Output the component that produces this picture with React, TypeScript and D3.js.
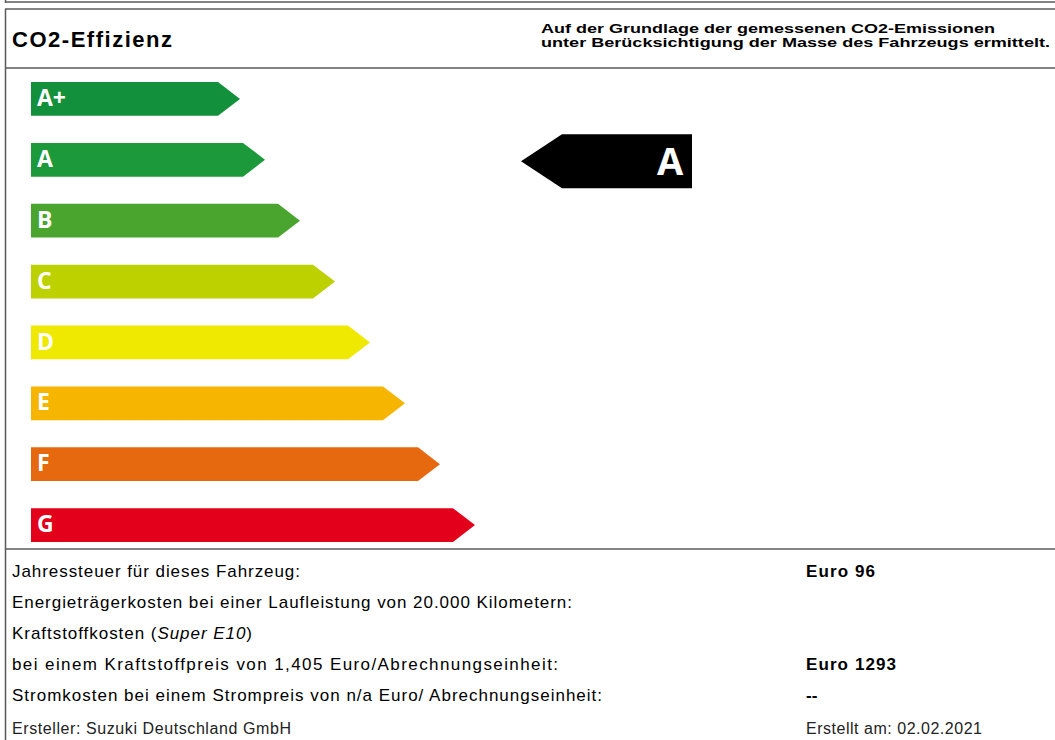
import React from "react";
import * as d3 from "d3";

const classes = ["A+", "A", "B", "C", "D", "E", "F", "G"];
const barLengths = [209, 234, 269, 304, 339, 374, 409, 444];
const barColors = ["#12903b", "#1c9a3b", "#4aa52e", "#bdd000", "#efe800", "#f6b500", "#e6680f", "#e2001a"];
const ratedClass = "A";

const headerTitle = "CO2-Effizienz";
const headerNote = [
  "Auf der Grundlage der gemessenen CO2-Emissionen",
  "unter Berücksichtigung der Masse des Fahrzeugs ermittelt.",
];

const rowLabels = [
  "Jahressteuer für dieses Fahrzeug:",
  "Energieträgerkosten bei einer Laufleistung von 20.000 Kilometern:",
  "Kraftstoffkosten (|Super E10|)",
  "bei einem Kraftstoffpreis von 1,405 Euro/Abrechnungseinheit:",
  "Stromkosten bei einem Strompreis von n/a Euro/ Abrechnungseinheit:",
];
const rowValues = ["Euro 96", "", "", "Euro 1293", "--"];
const footerLeft = "Ersteller: Suzuki Deutschland GmbH";
const footerRight = "Erstellt am: 02.02.2021";

const W = 1055;
const H = 740;
const FONT = "'Liberation Sans', Arial, sans-serif";
const LABEL_FONT = "'Open Sans', 'Noto Sans', sans-serif";

export default function App() {
  const y = d3.scaleBand<string>().domain(classes).range([82, 542]).paddingInner(0.445).paddingOuter(0);
  const x = d3.scaleLinear().domain([0, 444]).range([31, 475]);
  const tip = 22;
  const bh = y.bandwidth();

  const arrowPath = (i: number) => {
    const c = classes[i];
    const top = y(c)!;
    const p = d3.path();
    const x0 = x(0);
    const x1 = x(barLengths[i]);
    p.moveTo(x0, top);
    p.lineTo(x1 - tip, top);
    p.lineTo(x1, top + bh / 2);
    p.lineTo(x1 - tip, top + bh);
    p.lineTo(x0, top + bh);
    p.closePath();
    return p.toString();
  };

  const ry = y(ratedClass)! + bh / 2 + 1.5;
  const rp = d3.path();
  rp.moveTo(521, ry);
  rp.lineTo(562, ry - 27);
  rp.lineTo(692, ry - 27);
  rp.lineTo(692, ry + 27);
  rp.lineTo(562, ry + 27);
  rp.closePath();

  const rowY = d3.scaleLinear().domain([0, 1]).range([577, 608]);
  const rowLens = [288, 560, 240, 546, 590];
  const valLens = [69, 0, 0, 90, 0];

  const lineColor = "#5a5a5a";

  return (
    <svg width={W} height={H} style={{ position: "absolute", left: 0, top: 0, background: "#fff" }}>
      {/* frame lines */}
      <line x1={5} x2={W} y1={2} y2={2} stroke={lineColor} strokeWidth={1.5} />
      <line x1={5.5} x2={5.5} y1={0} y2={3} stroke={lineColor} strokeWidth={1.5} />
      <line x1={5} x2={W} y1={9} y2={9} stroke={lineColor} strokeWidth={1.5} />
      <line x1={5.5} x2={5.5} y1={9} y2={H} stroke={lineColor} strokeWidth={1.5} />
      <line x1={5} x2={W} y1={68} y2={68} stroke={lineColor} strokeWidth={1.5} />
      <line x1={5} x2={W} y1={549} y2={549} stroke={lineColor} strokeWidth={1.5} />

      {/* header */}
      <text x={12} y={47} fontFamily={FONT} fontWeight="bold" fontSize={22} fill="#000" textLength={160}>
        {headerTitle}
      </text>
      {headerNote.map((t, i) => (
        <text key={t} x={541} y={32.5 + i * 14} fontFamily={FONT} fontWeight="bold" fontSize={13} fill="#000"
          textLength={i === 0 ? 454 : 509} lengthAdjust="spacingAndGlyphs">
          {t}
        </text>
      ))}

      {/* efficiency bars */}
      {classes.map((c, i) => (
        <g key={c}>
          <path d={arrowPath(i)} fill={barColors[i]} />
          <text x={37} y={y(c)! + 24} fontFamily={LABEL_FONT} fontWeight={700} fontSize={23} fill="#fff">
            {c}
          </text>
        </g>
      ))}

      {/* rating indicator */}
      <path d={rp.toString()} fill="#000" />
      <text x={670} y={ry + 14} textAnchor="middle" fontFamily={LABEL_FONT} fontWeight={700} fontSize={38} fill="#fff">
        {ratedClass}
      </text>

      {/* info rows */}
      {rowLabels.map((t, i) => {
        const parts = t.split("|");
        return (
          <g key={i}>
            <text x={12} y={rowY(i)} fontFamily={FONT} fontSize={17} fill="#000" textLength={rowLens[i]}>
              {parts.map((p, j) => (
                <tspan key={j} fontStyle={j === 1 ? "italic" : "normal"}>{p}</tspan>
              ))}
            </text>
            {rowValues[i] && (
              <text x={806} y={rowY(i)} fontFamily={FONT} fontWeight="bold" fontSize={17} fill="#000"
                textLength={valLens[i] || undefined}>
                {rowValues[i]}
              </text>
            )}
          </g>
        );
      })}
      <text x={12} y={734} fontFamily={FONT} fontSize={16} fill="#222" textLength={279}>
        {footerLeft}
      </text>
      <text x={806} y={734} fontFamily={FONT} fontSize={16} fill="#222" textLength={176}>
        {footerRight}
      </text>
    </svg>
  );
}
